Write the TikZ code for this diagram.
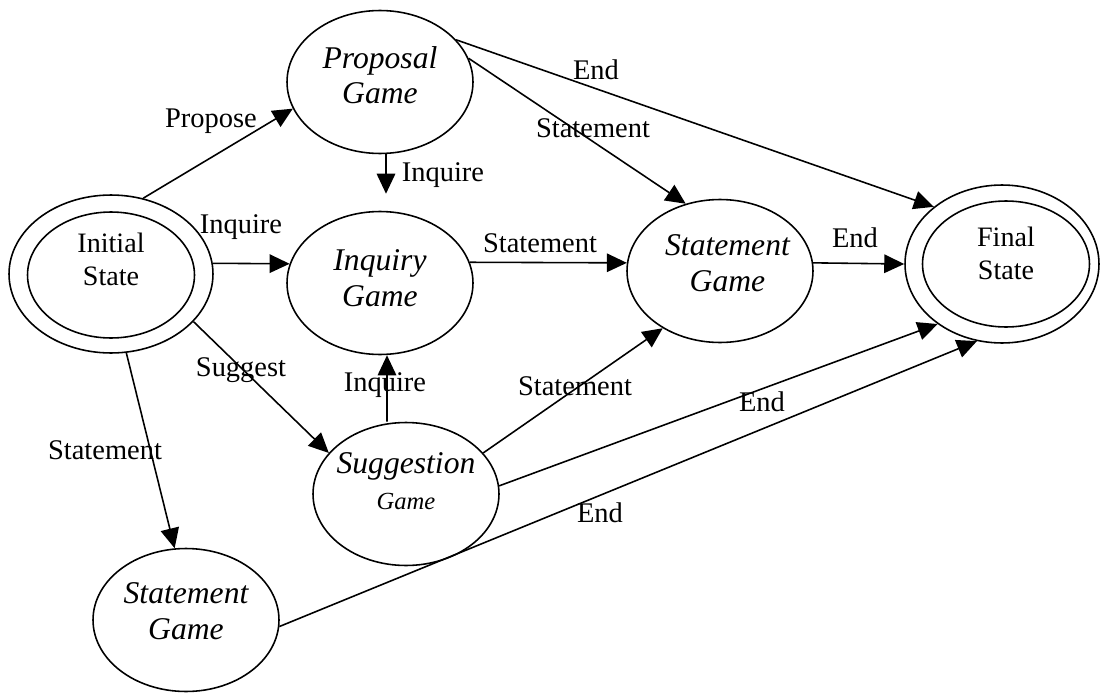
\documentclass[tikz,border=0pt]{standalone}
\usepackage{fontspec}
\setmainfont{Liberation Serif}
\usetikzlibrary{shapes.geometric, arrows.meta, positioning}

\begin{document}
\begin{tikzpicture}[
    x=0.02cm, y=-0.02cm,
    game/.style={ellipse, draw, line width=0.9pt, inner sep=-1cm, align=center,
                 minimum width=3.72cm, minimum height=2.86cm,
                 font=\fontsize{18}{20}\selectfont\itshape},
    endpoint/.style={ellipse, draw, line width=0.9pt, inner sep=-1cm, align=center,
                 minimum width=3.34cm, minimum height=2.52cm,
                 font=\fontsize{16}{19}\selectfont},
    ring/.style={ellipse, draw, line width=0.9pt, inner sep=0pt},
    trans/.style={-{Triangle[length=0.4cm, width=0.37cm]}, line width=0.9pt},
    lbl/.style={font=\fontsize{16.2}{18}\selectfont, inner sep=0pt}
]
    \useasboundingbox (0,0) rectangle (1103,693);

    % States
    \node[endpoint, text depth=0.64cm] (init) at (111,275) {Initial\\State};
    \node[ring, minimum width=4.08cm, minimum height=3.16cm] (initO) at (111,274) {};
    \node[game, text depth=0.28cm] (prop) at (380,82) {Proposal\\Game};
    \node[game, text depth=0.2cm] (inq) at (380,283) {Inquiry\\Game};
    \node[game, text depth=0.32cm] (stmt) at (720,271) {\hspace*{0.3cm}Statement\\\hspace*{0.3cm}Game};
    \node[game, text depth=0.52cm] (sug) at (406,494) {Suggestion\\{\fontsize{14}{16}\selectfont Game}};
    \node[game, text depth=0.36cm] (stmtB) at (186,620) {Statement\\Game};
    \node[endpoint, text depth=0.44cm] (fin) at (1006,264) {Final\\State};
    \node[ring, minimum width=3.88cm, minimum height=3.16cm] (finO) at (1002,264) {};

    % Transitions
    \draw[trans] (initO.67) -- (prop.197);
    \draw[trans] (initO.6) -- (inq.168);
    \draw[trans] (initO.330) -- (sug.152);
    \draw[trans] (initO.281) -- (stmtB.99);
    \draw[trans, shorten >=0.34cm] ([xshift=0.12cm]prop.south) -- ([xshift=0.12cm]inq.north);
    \draw[trans] (prop.15) -- (stmt.117);
    \draw[trans] (prop.29) -- (finO.140);
    \draw[trans] (inq.13) -- (stmt.175);
    \draw[trans] (stmt.5) -- (finO.180);
    \draw[trans] ([xshift=-0.38cm]sug.north) -- ([xshift=0.14cm]inq.south);
    \draw[trans] (sug.28) -- (stmt.225);
    \draw[trans] (sug.5) -- (finO.223);
    \draw[trans] (stmtB.356) -- (finO.252);

    % Transition labels
    \node[lbl] (lPropose) at (211,121) {Propose};
    \node[lbl] (lInqA) at (241,227) {Inquire};
    \node[lbl] (lSuggest) at (241,370) {Suggest};
    \node[lbl] (lStmtA) at (105,450) {Statement};
    \node[lbl] (lInqB) at (443,175) {Inquire};
    \node[lbl] (lStmtB) at (593,128) {Statement};
    \node[lbl] (lEndA) at (596,70) {End};
    \node[lbl] (lStmtC) at (540,243) {Statement};
    \node[lbl] (lEndB) at (855,238) {End};
    \node[lbl] (lInqC) at (385,385) {Inquire};
    \node[lbl] (lStmtD) at (575,386) {Statement};
    \node[lbl] (lEndC) at (762,402) {End};
    \node[lbl] (lEndD) at (600,513) {End};
\end{tikzpicture}
\end{document}
